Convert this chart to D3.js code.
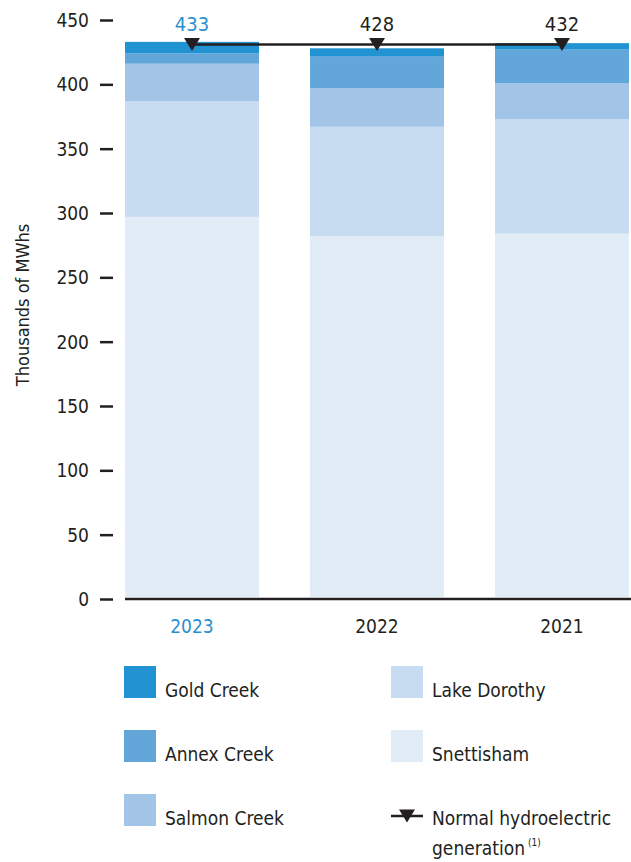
<!DOCTYPE html>
<html>
<head>
    <meta charset="utf-8">
    <script src="https://d3js.org/d3.v7.min.js"></script>
    <style>
        body { margin: 0; background: #fff; }
        text { font-family: "Liberation Sans Narrow", "DejaVu Sans Condensed", sans-serif; fill: #231f20; }
    </style>
</head>
<body>
    <svg id="chart"></svg>

    <script>
        // Data (thousands of MWhs)
        const years = ["2023", "2022", "2021"];
        const series = ["Snettisham", "Lake Dorothy", "Salmon Creek", "Annex Creek", "Gold Creek"];
        const snettisham = [297, 282, 284];
        const lakeDorothy = [90, 85, 89];
        const salmonCreek = [29, 30, 28];
        const annexCreek = [8, 25, 26];
        const goldCreek = [9, 6, 5];
        const totals = [433, 428, 432];
        const normalGeneration = [431, 431, 431];
        const yTicks = [0, 50, 100, 150, 200, 250, 300, 350, 400, 450];

        const colors = {
            "Gold Creek": "#2193d3",
            "Annex Creek": "#63a7da",
            "Salmon Creek": "#a2c4e7",
            "Lake Dorothy": "#c7dcf0",
            "Snettisham": "#e2ecf7"
        };
        const blue = "#2a8fcf";
        const dark = "#231f20";

        const width = 631, height = 862;
        const svg = d3.select("#chart").attr("width", width).attr("height", height);

        // Scales
        const x = d3.scaleBand().domain(years).range([125, 629]).paddingInner(0.2757).paddingOuter(0);
        const y = d3.scaleLinear().domain([0, 450]).range([599, 20]);

        // Build table for stacking
        const table = years.map((yr, i) => ({
            year: yr,
            "Snettisham": snettisham[i],
            "Lake Dorothy": lakeDorothy[i],
            "Salmon Creek": salmonCreek[i],
            "Annex Creek": annexCreek[i],
            "Gold Creek": goldCreek[i]
        }));
        const stacked = d3.stack().keys(series)(table);

        // Bars
        svg.append("g").selectAll("g")
            .data(stacked)
            .join("g")
            .attr("fill", d => colors[d.key])
            .selectAll("rect")
            .data(d => d)
            .join("rect")
            .attr("x", d => x(d.data.year))
            .attr("width", x.bandwidth())
            .attr("y", d => y(d[1]))
            .attr("height", d => y(d[0]) - y(d[1]) - (d[0] === 0 ? 2 : 0));

        // Y axis: ticks only, no domain
        const yAxis = svg.append("g")
            .attr("transform", "translate(113,0)")
            .call(d3.axisLeft(y).tickValues(yTicks).tickSize(13).tickPadding(11));
        yAxis.select(".domain").remove();
        yAxis.selectAll(".tick line").attr("stroke", dark).attr("stroke-width", 2.5);
        yAxis.selectAll(".tick text")
            .attr("fill", dark)
            .style("font-size", "19px")
            .attr("dy", "0.35em");

        // Baseline
        svg.append("line")
            .attr("x1", 125).attr("x2", 631)
            .attr("y1", y(0)).attr("y2", y(0))
            .attr("stroke", dark).attr("stroke-width", 2.5);

        // X labels
        svg.append("g").selectAll("text")
            .data(years)
            .join("text")
            .attr("x", d => x(d) + x.bandwidth() / 2)
            .attr("y", 633)
            .attr("text-anchor", "middle")
            .style("font-size", "19px")
            .style("fill", (d, i) => i === 0 ? blue : dark)
            .text(d => d);

        // Y axis title
        svg.append("text")
            .attr("transform", "translate(29,305) rotate(-90)")
            .attr("text-anchor", "middle")
            .style("font-size", "18px")
            .text("Thousands of MWhs");

        // Normal hydroelectric generation line
        const cx = d => x(d) + x.bandwidth() / 2;
        svg.append("path")
            .datum(years)
            .attr("fill", "none")
            .attr("stroke", dark)
            .attr("stroke-width", 2.5)
            .attr("d", d3.line().x(cx).y((d, i) => y(normalGeneration[i])));

        const tri = "M-8,-6.5 L8,-6.5 L0,6.5 Z";
        svg.append("g").selectAll("path")
            .data(years)
            .join("path")
            .attr("d", tri)
            .attr("fill", dark)
            .attr("transform", (d, i) => `translate(${cx(d)},${y(normalGeneration[i])})`);

        // Total labels
        svg.append("g").selectAll("text")
            .data(years)
            .join("text")
            .attr("x", cx)
            .attr("y", 31)
            .attr("text-anchor", "middle")
            .style("font-size", "20px")
            .style("fill", (d, i) => i === 0 ? blue : dark)
            .text((d, i) => totals[i]);

        // Legend
        const legendItems = [
            { key: "Gold Creek", col: 0, row: 0 },
            { key: "Annex Creek", col: 0, row: 1 },
            { key: "Salmon Creek", col: 0, row: 2 },
            { key: "Lake Dorothy", col: 1, row: 0 },
            { key: "Snettisham", col: 1, row: 1 }
        ];
        const legX = [124, 391], legY0 = 666, legStep = 64;
        const legend = svg.append("g");
        legendItems.forEach(it => {
            const gx = legX[it.col], gy = legY0 + it.row * legStep;
            legend.append("rect")
                .attr("x", gx).attr("y", gy)
                .attr("width", 32).attr("height", 32)
                .attr("fill", colors[it.key]);
            legend.append("text")
                .attr("x", gx + 41).attr("y", gy + 31)
                .style("font-size", "19px")
                .text(it.key);
        });

        // Legend: normal generation
        const ly = legY0 + 2 * legStep + 22;
        legend.append("line")
            .attr("x1", 391).attr("x2", 423)
            .attr("y1", ly).attr("y2", ly)
            .attr("stroke", dark).attr("stroke-width", 2.5);
        legend.append("path")
            .attr("d", tri)
            .attr("fill", dark)
            .attr("transform", `translate(407,${ly})`);
        legend.append("text")
            .attr("x", 432).attr("y", ly + 9)
            .style("font-size", "19px")
            .text("Normal hydroelectric");
        const gen = legend.append("text")
            .attr("x", 432).attr("y", ly + 39)
            .style("font-size", "19px");
        gen.append("tspan").text("generation");
        gen.append("tspan").attr("dx", 3).attr("dy", -9).style("font-size", "10px").text("(1)");
    </script>
</body>
</html>
